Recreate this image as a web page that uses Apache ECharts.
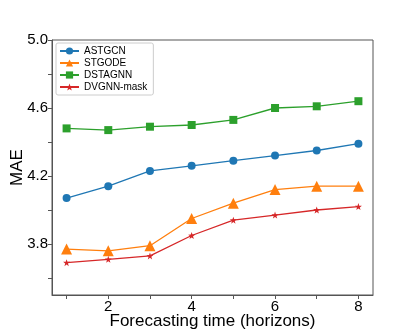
<!DOCTYPE html>
<html>
<head>
<meta charset="utf-8">
<script src="https://cdn.jsdelivr.net/npm/echarts@6/dist/echarts.min.js"></script>
<style>
  html, body { margin: 0; padding: 0; background: #fff; }
  #chart { width: 415px; height: 332px; }
</style>
</head>
<body>
<div id="chart"></div>
<script>
const horizons = [1, 2, 3, 4, 5, 6, 7, 8];
const astgcn = [4.07, 4.14, 4.23, 4.26, 4.29, 4.32, 4.35, 4.39];
const stgode = [3.77, 3.76, 3.79, 3.95, 4.04, 4.12, 4.14, 4.14];
const dstagnn = [4.48, 4.47, 4.49, 4.50, 4.53, 4.60, 4.61, 4.64];
const dvgnnMask = [3.69, 3.71, 3.73, 3.85, 3.94, 3.97, 4.00, 4.02];

const xTicks = [1, 2, 3, 4, 5, 6, 7, 8];
const xLabels = [2, 4, 6, 8];
const yTicks = [3.6, 3.8, 4.0, 4.2, 4.4, 4.6, 4.8, 5.0];
const yLabels = [3.8, 4.2, 4.6, 5.0];

const STAR = 'path://M0,-10 L2.35,-3.24 L9.51,-3.09 L3.8,1.24 L5.88,8.09 L0,4 L-5.88,8.09 L-3.8,1.24 L-9.51,-3.09 L-2.35,-3.24 Z';
const FONT = '"Liberation Sans", Arial, sans-serif';

function pairs(ys) {
  return horizons.map((x, i) => [x, ys[i]]);
}

function makeSeries(name, ys, color, symbol, size) {
  return {
    name: name,
    type: 'line',
    data: pairs(ys),
    symbol: symbol,
    symbolSize: size,
    showAllSymbol: true,
    lineStyle: { color: color, width: 1.3 },
    itemStyle: { color: color },
    emphasis: { disabled: true },
  };
}

const myChart = echarts.init(document.getElementById('chart'), null, { renderer: 'canvas' });

const option = {
  animation: false,
  textStyle: { fontFamily: FONT },
  grid: {
    left: 52,
    top: 40,
    right: 42,
    bottom: 37,
    outerBoundsMode: 'none',
    containLabel: false,
    show: true,
    borderColor: '#555',
    borderWidth: 1,
  },
  legend: {
    orient: 'vertical',
    left: 56,
    top: 43,
    itemWidth: 19,
    itemHeight: 9,
    itemGap: 2,
    padding: [3, 6, 3, 3],
    borderColor: '#ccc',
    borderWidth: 1,
    borderRadius: 2,
    backgroundColor: '#fff',
    textStyle: { fontSize: 10, color: '#000', fontFamily: FONT },
    data: ['ASTGCN', 'STGODE', 'DSTAGNN', 'DVGNN-mask'],
  },
  xAxis: {
    type: 'value',
    min: 0.65,
    max: 8.35,
    name: 'Forecasting time (horizons)',
    nameLocation: 'middle',
    nameGap: 18,
    nameMoveOverlap: false,
    nameTextStyle: { fontSize: 17, color: '#000', fontFamily: FONT },
    axisLine: { show: true, lineStyle: { color: '#555' } },
    axisTick: { show: true, length: 4, customValues: xTicks, lineStyle: { color: '#555' } },
    axisLabel: { customValues: xLabels, fontSize: 15, color: '#000', margin: 4 },
    splitLine: { show: false },
  },
  yAxis: {
    type: 'value',
    min: 3.5,
    max: 5.0,
    name: 'MAE',
    nameLocation: 'middle',
    nameGap: 26,
    nameMoveOverlap: false,
    nameTextStyle: { fontSize: 17, color: '#000', fontFamily: FONT },
    axisLine: { show: true, lineStyle: { color: '#555' } },
    axisTick: { show: true, length: 4, customValues: yTicks, lineStyle: { color: '#555' } },
    axisLabel: {
      customValues: yLabels,
      fontSize: 15,
      color: '#000',
      margin: 4,
      formatter: (v) => v.toFixed(1),
    },
    splitLine: { show: false },
  },
  series: [
    makeSeries('ASTGCN', astgcn, '#1f77b4', 'circle', 8),
    makeSeries('STGODE', stgode, '#ff7f0e', 'triangle', 11),
    makeSeries('DSTAGNN', dstagnn, '#2ca02c', 'rect', 8),
    makeSeries('DVGNN-mask', dvgnnMask, '#d62728', STAR, 7),
  ],
};

myChart.setOption(option);
</script>
</body>
</html>
